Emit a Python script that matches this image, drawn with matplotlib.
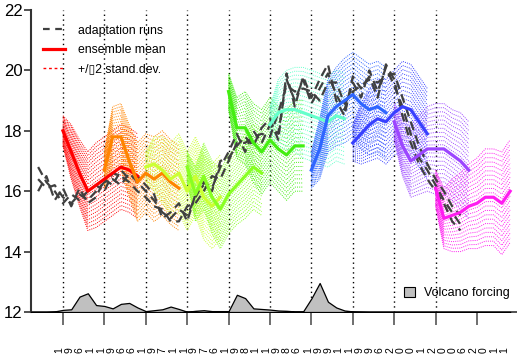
import numpy as np
import matplotlib
matplotlib.use('Agg')
from matplotlib import pyplot as plt
from matplotlib.lines import Line2D
from matplotlib.patches import Patch

plt.rcParams['font.family'] = ['Liberation Sans', 'DejaVu Sans']

# --- data ----------------------------------------------------------------

# adaptation runs (yearly, 1958-2009)
run_years = list(range(1958, 2010))
run_a = [16.4, 16.1, 16.2, 15.8, 15.6, 15.9, 15.7, 16.0, 16.3, 16.4, 16.2, 16.6, 16.3,
         16.0, 15.7, 15.3, 15.1, 15.4, 15.2, 15.8, 16.3, 16.1, 16.8, 17.3, 17.9, 17.3,
         18.0, 17.6, 18.2, 17.9, 19.7, 19.0, 19.7, 18.9, 19.4, 19.9, 19.2, 18.7, 19.6,
         19.1, 20.0, 19.3, 20.1, 19.5, 18.8, 17.9, 17.1, 16.7, 16.2, 15.7, 15.3, 14.9]
run_b = [16.8, 16.3, 16.0, 15.6, 15.9, 15.7, 16.0, 16.2, 16.0, 16.6, 16.5, 16.3, 16.0,
         15.8, 15.5, 15.4, 15.0, 15.0, 15.5, 15.6, 16.0, 16.5, 16.4, 17.0, 17.6, 17.6,
         17.8, 17.9, 17.8, 18.6, 19.5, 19.3, 19.4, 19.3, 19.0, 19.6, 19.6, 18.9, 19.3,
         19.5, 19.7, 19.6, 19.8, 19.9, 19.1, 18.3, 17.5, 16.9, 16.4, 16.0, 15.5, 15.2]
run_c = [16.0, 16.5, 15.7, 16.1, 15.5, 16.1, 15.6, 15.8, 16.4, 16.2, 16.7, 16.4, 16.5,
         16.2, 15.9, 15.1, 15.3, 15.6, 15.0, 15.9, 16.2, 16.0, 17.0, 17.1, 17.5, 17.8,
         17.5, 18.1, 18.4, 17.7, 19.9, 18.8, 19.8, 19.1, 19.7, 20.2, 19.0, 18.5, 19.8,
         19.4, 19.8, 19.1, 20.2, 19.7, 18.5, 17.6, 16.9, 16.4, 16.0, 15.6, 15.0, 14.7]

# forecast chunks: start year, ensemble mean and 2*std (yearly, 10 years each)
chunk_starts = [1961, 1966, 1971, 1976, 1981, 1986, 1991, 1996, 2001, 2006]
chunk_colors = ['#ff0000', '#ff8400', '#ccff33', '#88ff22', '#44ee11',
                '#66ffcc', '#2f66ff', '#3840ff', '#9c45ff', '#ff1cf0']

mean_1961 = [18.0, 17.3, 16.6, 16.0, 16.2, 16.4, 16.6, 16.8, 16.7, 16.5]
mean_1966 = [16.7, 17.8, 17.8, 17.0, 16.3, 16.6, 16.4, 16.6, 16.3, 16.1]
mean_1971 = [16.8, 16.9, 16.7, 16.4, 16.6, 16.0, 16.5, 15.8, 15.5, 15.8]
mean_1976 = [16.8, 15.9, 16.5, 15.8, 15.4, 15.9, 16.2, 16.5, 16.8, 16.6]
mean_1981 = [19.3, 18.1, 18.1, 17.6, 17.3, 17.7, 17.4, 17.2, 17.5, 17.5]
mean_1986 = [18.2, 18.6, 18.7, 18.7, 18.6, 18.5, 18.4, 18.3, 18.5, 18.4]
mean_1991 = [16.7, 17.4, 18.5, 18.8, 19.0, 19.2, 18.9, 18.7, 18.8, 18.6]
mean_1996 = [17.6, 17.9, 18.2, 18.4, 18.3, 18.6, 18.8, 18.7, 18.3, 17.9]
mean_2001 = [18.3, 17.5, 17.0, 17.2, 17.4, 17.4, 17.4, 17.2, 17.0, 16.7]
mean_2006 = [16.1, 15.1, 15.2, 15.3, 15.5, 15.6, 15.8, 15.8, 15.6, 16.0]

sd2_1961 = [0.5, 0.9, 1.1, 1.3, 1.4, 1.4, 1.4, 1.4, 1.4, 1.4]
sd2_1966 = [0.6, 1.0, 1.1, 1.2, 1.3, 1.3, 1.4, 1.4, 1.4, 1.4]
sd2_1971 = [0.5, 0.9, 1.1, 1.2, 1.3, 1.3, 1.3, 1.4, 1.4, 1.4]
sd2_1976 = [0.5, 0.9, 1.1, 1.2, 1.3, 1.3, 1.3, 1.4, 1.4, 1.4]
sd2_1981 = [0.6, 1.0, 1.2, 1.3, 1.4, 1.4, 1.4, 1.5, 1.5, 1.5]
sd2_1986 = [0.6, 1.1, 1.3, 1.4, 1.5, 1.5, 1.5, 1.5, 1.5, 1.5]
sd2_1991 = [0.6, 1.0, 1.2, 1.3, 1.4, 1.4, 1.5, 1.5, 1.5, 1.5]
sd2_1996 = [0.6, 1.0, 1.2, 1.3, 1.4, 1.4, 1.5, 1.5, 1.5, 1.5]
sd2_2001 = [0.6, 1.0, 1.2, 1.3, 1.4, 1.5, 1.5, 1.5, 1.6, 1.6]
sd2_2006 = [0.6, 1.0, 1.2, 1.3, 1.4, 1.5, 1.6, 1.6, 1.7, 1.7]

chunk_means = [mean_1961, mean_1966, mean_1971, mean_1976, mean_1981,
               mean_1986, mean_1991, mean_1996, mean_2001, mean_2006]
chunk_sd2 = [sd2_1961, sd2_1966, sd2_1971, sd2_1976, sd2_1981,
             sd2_1986, sd2_1991, sd2_1996, sd2_2001, sd2_2006]

# volcano forcing (drawn above the 12 baseline)
volc_years = list(range(1957, 2016))
volc_vals = [0, 0, 0, 0.02, 0.07, 0.09, 0.51, 0.62, 0.23, 0.20, 0.12, 0.27, 0.30, 0.15,
             0.03, 0.06, 0.09, 0.18, 0.10, 0.01, 0.04, 0.06, 0.03, 0.03, 0.03, 0.57,
             0.46, 0.12, 0.10, 0.08, 0.05, 0.04, 0.02, 0.02, 0.45, 0.96, 0.34, 0.15,
             0.05, 0.02, 0.01, 0, 0, 0, 0, 0, 0, 0, 0, 0, 0, 0, 0, 0, 0, 0, 0, 0, 0]

tick_years = [1961, 1966, 1971, 1976, 1981, 1986, 1991, 1996, 2001, 2006, 2011]

# --- figure ---------------------------------------------------------------
fig = plt.figure(figsize=(5.17, 3.61), dpi=100)
ax = fig.add_axes([31 / 517, 49 / 361, 486 / 517, 302 / 361])

# chunk start markers
for y in chunk_starts:
    ax.axvline(y, color='black', ls=(0, (1, 2.5)), lw=1.0, zorder=1)

# bands: rows of dotted lines between -2sd and +2sd
n_rows = 23
for start, col, mean, sd2 in zip(chunk_starts, chunk_colors, chunk_means, chunk_sd2):
    yrs = np.arange(start, start + len(mean))
    m = np.array(mean)
    s = np.array(sd2)
    for f in np.linspace(-1, 1, n_rows):
        ax.plot(yrs, m + f * s, color=col, ls=(0, (1, 1.2)), lw=0.7, zorder=2)

# adaptation runs
for run in [run_a, run_b, run_c]:
    ax.plot(run_years, run, color='#404040', ls=(0, (4, 2.5)), lw=1.6, zorder=3)

# ensemble means
for start, col, mean in zip(chunk_starts, chunk_colors, chunk_means):
    yrs = np.arange(start, start + len(mean))
    ax.plot(yrs, mean, color=col, lw=2.3, zorder=4)

# volcano forcing
ax.fill_between(volc_years, 12, 12 + np.array(volc_vals), facecolor='#c0c0c0',
                edgecolor='black', lw=0.9, zorder=5)

ax.set_xlim(1957.14, 2015.83)
ax.set_ylim(12, 22)

ax.spines['top'].set_visible(False)
ax.spines['right'].set_visible(False)
ax.spines['left'].set_color('#333333')
ax.spines['left'].set_linewidth(1.5)
ax.spines['bottom'].set_color('#333333')
ax.spines['bottom'].set_linewidth(1.2)

ax.set_yticks([12, 14, 16, 18, 20, 22])
ax.tick_params(axis='y', direction='out', length=5, width=1.2, color='#333333',
               labelsize=12, pad=1)
ax.set_xticks(tick_years)
ax.set_xticklabels([])
ax.tick_params(axis='x', direction='out', length=9.5, width=1.2, color='#555555')

# year labels: a row of digits, each digit turned on its side
pitch = 7.3  # points between digits
for yr in tick_years:
    s = str(yr)
    for j, ch in enumerate(s):
        ax.annotate(ch, xy=(yr, 0), xycoords=('data', 'axes fraction'),
                    xytext=(j * pitch - 2.5, -27.5),
                    textcoords='offset points', rotation=90, fontsize=7.5,
                    ha='center', va='center', annotation_clip=False)

handles = [Line2D([], [], color='#404040', ls=(0, (3, 2.5)), lw=1.6),
           Line2D([], [], color='red', lw=2.3),
           Line2D([], [], color='#ff0000', ls=(0, (2, 2)), lw=1.0)]
labels = ['adaptation runs', 'ensemble mean', '+/\u25af2 stand.dev.']
leg = ax.legend(handles, labels, loc='upper left', bbox_to_anchor=(0.015, 0.968),
                frameon=False, fontsize=8.8, handlelength=1.75, handletextpad=1.1,
                labelspacing=0.6, borderaxespad=0)
ax.add_artist(leg)

ax.legend([Patch(facecolor='#c0c0c0', edgecolor='black', lw=0.8)], ['Volcano forcing'],
          loc='lower right', bbox_to_anchor=(0.995, 0.025), frameon=False, fontsize=9,
          handlelength=0.9, handleheight=0.9, handletextpad=0.7, borderaxespad=0)

fig.savefig('out.png', dpi=100)
